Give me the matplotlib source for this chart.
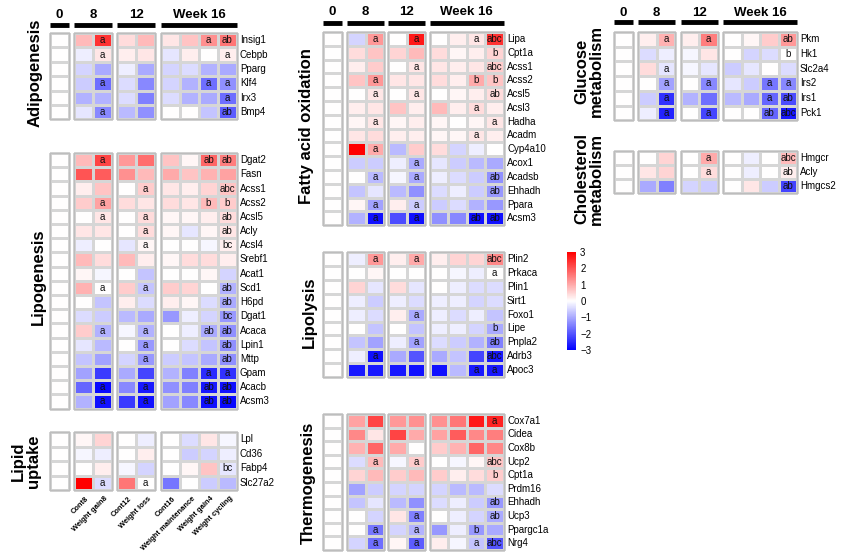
import numpy as np
import matplotlib.pyplot as plt
from matplotlib.colors import LinearSegmentedColormap
from matplotlib.patches import Rectangle
from matplotlib.cm import ScalarMappable
from matplotlib.colors import Normalize

plt.rcParams['font.family'] = ['Liberation Sans', 'DejaVu Sans']

# columns: Cont0, Cont8, Weight gain8, Cont12, Weight loss, Cont16, Weight maintenance, Weight gain4, Weight cycling
col_names = ["", "Cont8", "Weight gain8", "Cont12", "Weight loss", "Cont16",
             "Weight maintenance", "Weight gain4", "Weight cycling"]
week_labels = ["0", "8", "12", "Week 16"]

adipo_genes = ["Insig1", "Cebpb", "Pparg", "Klf4", "Irx3", "Bmp4"]
adipo_vals = [
    [0, 0.8, 2.4, 0.4, 0.8, 0.3, 0.7, 1.3, 1.6],
    [0, -0.2, 0.3, 0.2, 0.3, -0.3, 0.2, 0.0, 0.2],
    [0, -0.5, -1.0, -0.2, -1.0, -0.5, -0.4, -0.9, -1.0],
    [0, -0.6, -1.7, -0.4, -1.4, -0.5, -0.9, -1.7, -1.3],
    [0, -0.9, -0.9, -0.4, -1.5, -0.4, -0.9, -1.0, -1.7],
    [0, -0.3, -1.4, -0.8, -1.3, 0.0, 0.0, -0.7, -1.9],
]
adipo_sig = [(0, 2, 'a'), (0, 7, 'a'), (0, 8, 'ab'), (1, 2, 'a'), (1, 8, 'a'),
             (3, 2, 'a'), (3, 7, 'a'), (3, 8, 'a'), (4, 8, 'a'), (5, 2, 'a'), (5, 8, 'ab')]

lipo_genes = ["Dgat2", "Fasn", "Acss1", "Acss2", "Acsl5", "Acly", "Acsl4", "Srebf1", "Acat1",
              "Scd1", "H6pd", "Dgat1", "Acaca", "Lpin1", "Mttp", "Gpam", "Acacb", "Acsm3"]
lipo_vals = [
    [0, 0.8, 2.2, 1.2, 1.7, 0.7, 0.1, 1.8, 1.5],
    [0, 2.0, 1.9, 1.3, 0.8, 1.0, 0.7, 0.9, 1.1],
    [0, 0.2, 0.7, 0.0, 0.6, 0.3, 0.2, 0.5, 0.7],
    [0, 0.6, 1.1, 0.4, 0.3, 0.4, 0.3, 0.8, 0.6],
    [0, 0.0, 0.3, 0.0, 0.4, 0.1, 0.1, 0.2, 0.4],
    [0, 0.3, 0.3, 0.0, 0.4, 0.1, -0.3, 0.1, 0.3],
    [0, -0.2, 0.0, -0.3, 0.1, 0.0, 0.0, -0.1, 0.2],
    [0, 0.8, 0.4, 0.8, 0.2, 0.1, 0.4, 0.4, 0.2],
    [0, 0.1, -0.1, 0.0, -0.7, 0.0, 0.0, 0.1, -0.5],
    [0, 0.9, 0.0, 0.6, -0.7, 0.6, 0.5, 0.0, -0.9],
    [0, 0.0, -0.7, 0.2, -0.4, 0.2, 0.1, -0.4, -1.0],
    [0, -0.4, -0.6, -0.8, -1.0, -1.2, -0.2, -0.5, -1.2],
    [0, 0.6, -0.9, -0.1, -0.9, 0.0, -0.2, -1.0, -1.3],
    [0, -0.3, -0.8, 0.0, -1.2, 0.0, -0.4, -0.7, -1.3],
    [0, -0.7, -1.1, -0.5, -1.2, -0.6, -0.7, -1.0, -1.3],
    [0, -1.1, -2.3, -1.0, -2.2, -0.9, -1.5, -2.5, -2.4],
    [0, -1.8, -2.9, -1.4, -2.7, -1.3, -1.5, -2.7, -2.8],
    [0, -0.9, -2.8, -2.3, -2.8, -1.1, -1.4, -2.8, -2.9],
]
lipo_sig = [(0, 2, 'a'), (0, 7, 'ab'), (0, 8, 'ab'), (2, 4, 'a'), (2, 8, 'abc'),
            (3, 2, 'a'), (3, 7, 'b'), (3, 8, 'b'), (4, 2, 'a'), (4, 4, 'a'), (4, 8, 'ab'),
            (5, 4, 'a'), (5, 8, 'ab'), (6, 4, 'a'), (6, 8, 'bc'), (9, 2, 'a'), (9, 4, 'a'),
            (9, 8, 'ab'), (10, 8, 'ab'), (11, 8, 'bc'), (12, 2, 'a'), (12, 4, 'a'),
            (12, 7, 'ab'), (12, 8, 'ab'), (13, 4, 'a'), (13, 8, 'ab'), (14, 4, 'a'),
            (14, 8, 'ab'), (15, 7, 'a'), (15, 8, 'a'), (16, 2, 'a'), (16, 4, 'a'),
            (16, 7, 'ab'), (16, 8, 'ab'), (17, 2, 'a'), (17, 4, 'a'), (17, 7, 'ab'), (17, 8, 'ab')]

uptake_genes = ["Lpl", "Cd36", "Fabp4", "Slc27a2"]
uptake_vals = [
    [0, 0.1, 0.5, 0.0, -0.2, 0.0, -0.4, 0.3, -0.1],
    [0, -0.1, -0.2, 0.0, 0.2, 0.0, -0.6, -0.5, -0.2],
    [0, 0.0, 0.2, -0.1, -0.5, 0.0, 0.1, 0.7, -0.3],
    [0, 3.0, -0.4, 1.6, 0.0, -1.6, 0.0, -0.6, -0.8],
]
uptake_sig = [(2, 8, 'bc'), (3, 2, 'a'), (3, 4, 'a')]

fao_genes = ["Lipa", "Cpt1a", "Acss1", "Acss2", "Acsl5", "Acsl3", "Hadha", "Acadm",
             "Cyp4a10", "Acox1", "Acadsb", "Ehhadh", "Ppara", "Acsm3"]
fao_vals = [
    [0, -0.5, 1.2, 0.0, 2.7, 0.0, 0.2, 0.3, 2.4],
    [0, 0.4, 0.7, 0.5, 0.8, 0.4, 0.1, 0.2, 0.5],
    [0, 0.2, 0.6, 0.0, 0.3, 0.3, 0.2, 0.3, 0.6],
    [0, 0.7, 1.2, 0.3, 0.3, 0.4, 0.2, 1.0, 0.7],
    [0, 0.0, 0.3, 0.0, 0.3, 0.0, 0.1, 0.2, 0.4],
    [0, 0.2, 0.3, 0.7, 0.2, 0.8, 0.2, 0.4, 0.2],
    [0, 0.1, 0.3, 0.1, 0.2, 0.1, 0.0, 0.1, 0.3],
    [0, 0.3, 0.4, 0.2, 0.2, 0.1, 0.1, 0.3, 0.2],
    [0, 3.0, 1.0, -0.8, 0.6, 0.4, -0.5, -0.2, 0.0],
    [0, -0.6, -0.6, -0.2, -1.0, -0.3, -0.6, -0.8, -1.0],
    [0, 0.0, -0.8, -0.1, -1.0, -0.2, -0.4, -0.6, -1.3],
    [0, -0.7, -0.3, -0.8, -1.3, -0.4, -0.2, -0.6, -1.2],
    [0, 0.1, -1.1, 0.2, -0.6, -0.6, -0.4, -0.9, -1.2],
    [0, -0.9, -2.8, -2.1, -2.8, -1.3, -1.4, -2.8, -2.8],
]
fao_sig = [(0, 2, 'a'), (0, 4, 'a'), (0, 7, 'a'), (0, 8, 'abc'), (1, 8, 'b'),
           (2, 4, 'a'), (2, 8, 'abc'), (3, 2, 'a'), (3, 7, 'b'), (3, 8, 'b'),
           (4, 2, 'a'), (4, 4, 'a'), (4, 8, 'ab'), (5, 7, 'a'), (6, 2, 'a'), (6, 8, 'a'),
           (7, 7, 'a'), (8, 2, 'a'), (9, 4, 'a'), (10, 2, 'a'), (10, 4, 'a'), (10, 8, 'ab'),
           (11, 8, 'ab'), (12, 2, 'a'), (12, 4, 'a'), (13, 2, 'a'), (13, 4, 'a'),
           (13, 7, 'ab'), (13, 8, 'ab')]

lipol_genes = ["Plin2", "Prkaca", "Plin1", "Sirt1", "Foxo1", "Lipe", "Pnpla2", "Adrb3", "Apoc3"]
lipol_vals = [
    [0, -0.2, 1.2, 0.2, 1.0, 0.2, 0.5, 0.5, 1.4],
    [0, 0.0, 0.1, 0.0, 0.0, 0.0, -0.1, -0.2, 0.0],
    [0, 0.5, -0.3, 0.4, -0.3, 0.0, -0.2, -0.4, -0.4],
    [0, -0.2, -0.6, -0.2, -0.4, -0.2, -0.2, -0.5, -0.4],
    [0, -0.2, -0.4, 0.2, -1.0, -0.2, -0.4, -0.2, -0.7],
    [0, 0.0, -0.7, 0.0, -0.7, -0.2, -0.2, -0.5, -1.0],
    [0, -0.7, -1.1, -0.2, -1.1, -0.4, -0.6, -0.9, -1.5],
    [0, -0.2, -2.8, -1.0, -2.0, -1.0, -0.7, -2.2, -2.7],
    [0, -2.7, -2.7, -2.7, -2.8, -2.8, -0.8, -2.7, -2.7],
]
lipol_sig = [(0, 2, 'a'), (0, 4, 'a'), (0, 8, 'abc'), (1, 8, 'a'), (4, 4, 'a'), (5, 8, 'b'),
             (6, 4, 'a'), (6, 8, 'ab'), (7, 2, 'a'), (7, 8, 'abc'), (8, 7, 'a'), (8, 8, 'a')]

thermo_genes = ["Cox7a1", "Cidea", "Cox8b", "Ucp2", "Cpt1a", "Prdm16", "Ehhadh", "Ucp3",
                "Ppargc1a", "Nrg4"]
thermo_vals = [
    [0, 1.1, 2.2, 1.2, 1.3, 1.3, 1.6, 2.7, 2.6],
    [0, 1.4, 0.3, 2.2, 1.0, 1.1, 1.9, 1.4, 1.5],
    [0, 0.9, 1.8, 1.0, 0.0, 0.6, 0.9, 1.8, 1.4],
    [0, -0.4, 0.8, -0.1, 0.6, 0.0, -0.1, 0.1, 0.7],
    [0, 0.5, 0.8, 0.6, 0.8, 0.6, 0.2, 0.4, 0.6],
    [0, -1.1, -0.6, -0.5, -0.5, -0.5, -0.8, -0.8, -0.4],
    [0, -0.7, -0.3, -0.8, -1.3, -0.4, -0.2, -0.6, -1.2],
    [0, 0.0, -0.5, 0.3, -1.5, 0.0, -0.2, -0.5, -1.0],
    [0, 0.0, -1.6, -0.5, -0.9, -1.2, -0.2, -1.2, -1.0],
    [0, -0.5, -1.7, 0.1, -1.9, 0.2, -0.1, -0.7, -2.0],
]
thermo_sig = [(0, 8, 'a'), (3, 2, 'a'), (3, 4, 'a'), (3, 8, 'abc'), (4, 8, 'b'), (6, 8, 'ab'),
              (7, 4, 'a'), (7, 8, 'ab'), (8, 2, 'a'), (8, 4, 'a'), (8, 7, 'b'),
              (9, 2, 'a'), (9, 4, 'a'), (9, 7, 'a'), (9, 8, 'abc')]

gluc_genes = ["Pkm", "Hk1", "Slc2a4", "Irs2", "Irs1", "Pck1"]
gluc_vals = [
    [0, 0.2, 0.9, 0.2, 1.5, 0.0, 0.1, 0.6, 1.2],
    [0, -0.4, -0.2, -0.1, 0.3, 0.0, -0.5, -0.4, 0.0],
    [0, 0.4, -0.3, -0.1, -0.3, -0.6, -0.3, 0.0, -0.4],
    [0, 0.0, -1.1, 0.0, -1.4, -0.3, -0.6, -1.6, -1.4],
    [0, -0.6, -2.4, -0.9, -1.7, -0.8, -1.0, -1.8, -2.1],
    [0, -0.2, -2.6, 0.0, -2.2, 0.0, 0.0, -1.8, -2.7],
]
gluc_sig = [(0, 2, 'a'), (0, 4, 'a'), (0, 8, 'ab'), (1, 8, 'b'), (2, 2, 'a'),
            (3, 2, 'a'), (3, 4, 'a'), (3, 7, 'a'), (3, 8, 'a'), (4, 2, 'a'), (4, 7, 'a'),
            (4, 8, 'ab'), (5, 2, 'a'), (5, 4, 'a'), (5, 7, 'ab'), (5, 8, 'abc')]

chol_genes = ["Hmgcr", "Acly", "Hmgcs2"]
chol_vals = [
    [0, 0.0, 0.5, 0.0, 1.0, 0.0, -0.2, 0.0, 0.8],
    [0, 0.3, 0.5, 0.0, 0.4, 0.0, -0.2, 0.0, 0.2],
    [0, -1.0, -1.5, -0.5, -0.6, 0.0, 0.3, -0.6, -2.2],
]
chol_sig = [(0, 4, 'a'), (0, 8, 'abc'), (1, 4, 'a'), (1, 8, 'ab'), (2, 8, 'ab')]

cmap = LinearSegmentedColormap.from_list('bwr_r', ['#0000ff', '#ffffff', '#ff0000'])
group_sizes = [1, 2, 2, 4]


def col_centers(starts, cw):
    c = []
    for s, n in zip(starts, group_sizes):
        c += [s + cw * (k + 0.5) for k in range(n)]
    return c


def draw_block(ax, vals, sig, genes, starts, cw, top, rh, label_x):
    vals = np.asarray(vals, dtype=float)
    nrow = vals.shape[0]
    yedges = top + rh * np.arange(nrow + 1)
    col = 0
    for s, n in zip(starts, group_sizes):
        xedges = s + cw * np.arange(n + 1)
        ax.pcolormesh(xedges, yedges, vals[:, col:col + n], cmap=cmap, vmin=-3, vmax=3,
                      edgecolors='#d6d6d6', linewidth=0.8)
        ax.add_patch(Rectangle((s, top), cw * n, rh * nrow, fill=False, ec='#bdbdbd', lw=1))
        col += n
    cx = col_centers(starts, cw)
    for r, c, t in sig:
        ax.text(cx[c], top + rh * (r + 0.5), t, ha='center', va='center', fontsize=7,
                color='#111111')
    for i, g in enumerate(genes):
        ax.text(label_x, top + rh * (i + 0.5), g, ha='left', va='center', fontsize=7)


def draw_header(ax, starts, cw, ytext, ybar):
    for s, n, lab in zip(starts, group_sizes, week_labels):
        ax.plot([s, s + cw * n], [ybar, ybar], color='black', lw=3.5, solid_capstyle='butt')
        ax.text(s + cw * n / 2, ytext, lab, ha='center', va='center', fontsize=9.5,
                fontweight='bold')


fig = plt.figure(figsize=(8.43, 5.53), dpi=100)
ax = fig.add_axes([0, 0, 1, 1])
ax.set_xlim(0, 843)
ax.set_ylim(553, 0)
ax.axis('off')

left = [50, 74, 117, 161]
mid = [323, 347, 388, 429.5]
right = [614, 638, 680.5, 723]

draw_header(ax, left, 19, 15, 25)
draw_header(ax, mid, 18.6, 12, 23)
draw_header(ax, right, 18.6, 12.5, 22)

draw_block(ax, adipo_vals, adipo_sig, adipo_genes, left, 19, 33, 14.4, 240)
draw_block(ax, lipo_vals, lipo_sig, lipo_genes, left, 19, 153, 14.2, 240)
draw_block(ax, uptake_vals, uptake_sig, uptake_genes, left, 19, 432, 14.5, 240)
draw_block(ax, fao_vals, fao_sig, fao_genes, mid, 18.6, 32, 13.8, 507)
draw_block(ax, lipol_vals, lipol_sig, lipol_genes, mid, 18.6, 252, 13.9, 507)
draw_block(ax, thermo_vals, thermo_sig, thermo_genes, mid, 18.6, 414, 13.6, 507)
draw_block(ax, gluc_vals, gluc_sig, gluc_genes, right, 18.6, 32, 14.7, 800)
draw_block(ax, chol_vals, chol_sig, chol_genes, right, 18.6, 151, 14.0, 800)

# column names under lipid uptake
cx = col_centers(left, 19)
for c in range(1, 9):
    ax.text(cx[c] + 2, 495, col_names[c], rotation=45, rotation_mode='anchor',
            ha='right', va='top', fontsize=5.4, fontweight='bold')

titles = [
    ("Adipogenesis", 35, 73), ("Lipogenesis", 38, 277), ("Lipid\nuptake", 26, 461),
    ("Fatty acid oxidation", 306, 126), ("Lipolysis", 309, 312), ("Thermogenesis", 308, 483),
    ("Glucose\nmetabolism", 589, 71), ("Cholesterol\nmetabolism", 589, 179),
]
for t, x, y in titles:
    ax.text(x, y, t, rotation=90, ha='center', va='center', fontsize=12,
            fontweight='bold', multialignment='center', linespacing=1.0)

cax = fig.add_axes([567 / 843, 1 - 350 / 553, 9 / 843, 98 / 553])
cb = fig.colorbar(ScalarMappable(norm=Normalize(-3, 3), cmap=cmap), cax=cax)
cb.set_ticks([-3, -2, -1, 0, 1, 2, 3])
cb.outline.set_visible(False)
cax.tick_params(length=0, labelsize=7, pad=3)

fig.savefig('out.png', dpi=100)
